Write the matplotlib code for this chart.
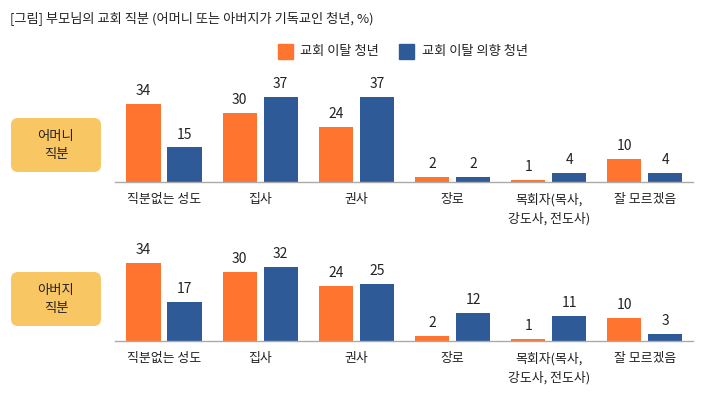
import matplotlib
matplotlib.use('Agg')
import matplotlib.pyplot as plt
from matplotlib.patches import FancyBboxPatch
import numpy as np

plt.rcParams['font.family'] = ['Noto Sans CJK KR', 'DejaVu Sans']

# data
categories = ['직분없는 성도', '집사', '권사', '장로', '목회자(목사,\n강도사, 전도사)', '잘 모르겠음']
series_names = ['교회 이탈 청년', '교회 이탈 의향 청년']
mother_left = [34, 30, 24, 2, 1, 10]
mother_intend = [15, 37, 37, 2, 4, 4]
father_left = [34, 30, 24, 2, 1, 10]
father_intend = [17, 32, 25, 12, 11, 3]
panel_labels = ['어머니\n직분', '아버지\n직분']

orange = '#FF7530'
blue = '#2E5B98'
box_color = '#F9C664'
W, H = 709, 397

fig = plt.figure(figsize=(W / 100, H / 100), dpi=100)

fig.text(10 / W, 1 - 18 / H, '[그림] 부모님의 교회 직분 (어머니 또는 아버지가 기독교인 청년, %)',
         fontsize=9.5, va='center', ha='left', color='#222222')

# legend (hand placed like the original)
leg_y = 1 - 51.5 / H
for sx, tx, col, name in [(278, 300, orange, series_names[0]), (399, 422, blue, series_names[1])]:
    fig.patches.append(plt.Rectangle((sx / W, 1 - 59 / H), 15 / W, 15 / H,
                                     transform=fig.transFigure, color=col))
    fig.text(tx / W, leg_y, name, fontsize=9.5, va='center', ha='left', color='#222222')

x = np.arange(len(categories))
w = 0.355
off = 0.213

panels = [(mother_left, mother_intend, 182, 118), (father_left, father_intend, 341, 272)]
for i, (a, b, base_px, box_top) in enumerate(panels):
    ax = fig.add_axes([115 / W, 1 - base_px / H, 578 / W, 103.5 / H])
    ax.bar(x - off, a, w, color=orange)
    ax.bar(x + off, b, w, color=blue)
    for xi, v in zip(x - off, a):
        ax.text(xi, v + 2.6, str(v), ha='center', va='bottom', fontsize=10, color='#222222')
    for xi, v in zip(x + off, b):
        ax.text(xi, v + 2.6, str(v), ha='center', va='bottom', fontsize=10, color='#222222')
    ax.set_xlim(-0.509, 5.5)
    ax.set_ylim(0, 45)
    ax.set_xticks(x)
    ax.set_xticklabels(categories, fontsize=9.3, color='#222222', linespacing=1.5)
    ax.tick_params(axis='x', length=0, pad=8)
    ax.set_yticks([])
    for s in ['top', 'right', 'left']:
        ax.spines[s].set_visible(False)
    ax.spines['bottom'].set_color('#AAAAAA')
    ax.spines['bottom'].set_linewidth(1)

    box = FancyBboxPatch((11 / W, 1 - (box_top + 54) / H), 90 / W, 54 / H,
                         boxstyle='round,pad=0,rounding_size=0.01',
                         transform=fig.transFigure, facecolor=box_color, edgecolor='none',
                         mutation_aspect=W / H)
    fig.patches.append(box)
    fig.text(56 / W, 1 - (box_top + 27) / H, panel_labels[i], ha='center', va='center',
             fontsize=9.6, color='#222222', linespacing=1.3)

fig.savefig('out.png', dpi=100)
